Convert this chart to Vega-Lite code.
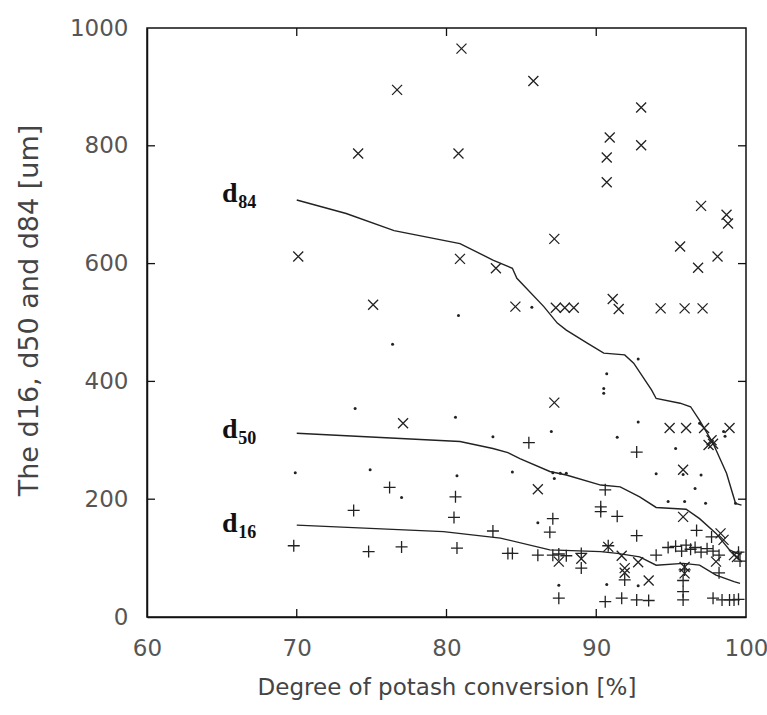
{
  "$schema": "https://vega.github.io/schema/vega-lite/v6.json",
  "width": 599,
  "height": 589,
  "autosize": {"type": "none"},
  "padding": {"left": 147, "top": 28, "right": 21, "bottom": 98},
  "background": "white",
  "config": {"view": {"stroke": "#111", "strokeWidth": 1.5}, "font": "DejaVu Sans"},
  "datasets": {
    "d84": [
      {"x": 81.0, "y": 965}, {"x": 76.7, "y": 895}, {"x": 74.1, "y": 787}, {"x": 80.8, "y": 787},
      {"x": 85.8, "y": 910}, {"x": 93.0, "y": 865}, {"x": 90.9, "y": 814}, {"x": 93.0, "y": 801},
      {"x": 90.7, "y": 780}, {"x": 90.7, "y": 738}, {"x": 97.0, "y": 698}, {"x": 98.7, "y": 683},
      {"x": 98.8, "y": 668}, {"x": 95.6, "y": 629}, {"x": 87.2, "y": 642}, {"x": 98.1, "y": 612},
      {"x": 96.8, "y": 593}, {"x": 70.1, "y": 612}, {"x": 80.9, "y": 608}, {"x": 83.3, "y": 592},
      {"x": 75.1, "y": 530}, {"x": 84.6, "y": 527}, {"x": 87.3, "y": 525}, {"x": 87.9, "y": 525},
      {"x": 88.5, "y": 525}, {"x": 91.1, "y": 540}, {"x": 91.5, "y": 523}, {"x": 94.3, "y": 524},
      {"x": 95.9, "y": 524}, {"x": 97.1, "y": 524}, {"x": 87.2, "y": 364}, {"x": 77.1, "y": 329},
      {"x": 94.9, "y": 321}, {"x": 96.0, "y": 321}, {"x": 97.2, "y": 321}, {"x": 98.9, "y": 321},
      {"x": 97.7, "y": 300}, {"x": 97.8, "y": 294}, {"x": 97.5, "y": 292}, {"x": 95.8, "y": 250},
      {"x": 86.1, "y": 217}, {"x": 95.8, "y": 170}, {"x": 98.3, "y": 142}, {"x": 98.5, "y": 131},
      {"x": 87.5, "y": 94}, {"x": 89.0, "y": 99}, {"x": 90.8, "y": 119}, {"x": 91.7, "y": 104},
      {"x": 91.9, "y": 83}, {"x": 91.9, "y": 75}, {"x": 92.8, "y": 93}, {"x": 95.9, "y": 85},
      {"x": 95.9, "y": 74}, {"x": 93.5, "y": 62}, {"x": 98.0, "y": 94}, {"x": 99.2, "y": 105},
      {"x": 99.4, "y": 102}
    ],
    "d50": [
      {"x": 85.7, "y": 526}, {"x": 92.8, "y": 438}, {"x": 90.7, "y": 413}, {"x": 90.5, "y": 388},
      {"x": 90.5, "y": 380}, {"x": 80.8, "y": 512}, {"x": 76.4, "y": 463}, {"x": 87.0, "y": 315},
      {"x": 92.8, "y": 331}, {"x": 98.5, "y": 315}, {"x": 98.6, "y": 307}, {"x": 91.4, "y": 305},
      {"x": 95.3, "y": 286}, {"x": 84.4, "y": 246}, {"x": 87.1, "y": 245}, {"x": 87.6, "y": 244},
      {"x": 88.0, "y": 244}, {"x": 87.2, "y": 235}, {"x": 94.0, "y": 243}, {"x": 95.8, "y": 242},
      {"x": 97.0, "y": 241}, {"x": 96.6, "y": 218}, {"x": 94.8, "y": 196}, {"x": 95.9, "y": 196},
      {"x": 97.3, "y": 193}, {"x": 86.1, "y": 160}, {"x": 87.5, "y": 54}, {"x": 90.7, "y": 55},
      {"x": 92.8, "y": 53}, {"x": 73.9, "y": 354}, {"x": 80.6, "y": 339}, {"x": 83.1, "y": 306},
      {"x": 69.9, "y": 245}, {"x": 74.9, "y": 250}, {"x": 80.7, "y": 240}, {"x": 77.0, "y": 203},
      {"x": 99.3, "y": 193}, {"x": 96.9, "y": 329}
    ],
    "d16": [
      {"x": 85.5, "y": 296}, {"x": 92.7, "y": 280}, {"x": 90.6, "y": 216}, {"x": 90.3, "y": 187},
      {"x": 90.3, "y": 179}, {"x": 91.4, "y": 171}, {"x": 87.1, "y": 167}, {"x": 86.9, "y": 144},
      {"x": 92.7, "y": 138}, {"x": 96.7, "y": 147}, {"x": 97.7, "y": 136}, {"x": 84.4, "y": 108},
      {"x": 86.1, "y": 105}, {"x": 87.1, "y": 105}, {"x": 87.5, "y": 107}, {"x": 88.0, "y": 104},
      {"x": 89.0, "y": 108}, {"x": 89.0, "y": 83}, {"x": 90.8, "y": 121}, {"x": 94.0, "y": 105},
      {"x": 94.8, "y": 118}, {"x": 95.3, "y": 120}, {"x": 95.7, "y": 112}, {"x": 96.0, "y": 122},
      {"x": 96.3, "y": 115}, {"x": 96.6, "y": 118}, {"x": 97.0, "y": 110}, {"x": 97.4, "y": 116},
      {"x": 97.8, "y": 112}, {"x": 98.2, "y": 105}, {"x": 95.9, "y": 80}, {"x": 98.2, "y": 75},
      {"x": 91.9, "y": 63}, {"x": 95.8, "y": 62}, {"x": 87.5, "y": 32}, {"x": 90.6, "y": 26},
      {"x": 91.7, "y": 32}, {"x": 92.7, "y": 29}, {"x": 93.5, "y": 28}, {"x": 95.8, "y": 43},
      {"x": 95.8, "y": 29}, {"x": 97.8, "y": 32}, {"x": 98.4, "y": 29}, {"x": 98.9, "y": 29},
      {"x": 99.2, "y": 29}, {"x": 99.5, "y": 30}, {"x": 76.2, "y": 220}, {"x": 73.8, "y": 181},
      {"x": 80.6, "y": 204}, {"x": 80.5, "y": 169}, {"x": 83.1, "y": 146}, {"x": 69.8, "y": 121},
      {"x": 74.8, "y": 111}, {"x": 77.0, "y": 119}, {"x": 80.7, "y": 117}, {"x": 84.1, "y": 108},
      {"x": 99.5, "y": 110}, {"x": 99.6, "y": 95}
    ],
    "curves": [
      {"s": "d84", "o": 1, "x": 70, "y": 708}, {"s": "d84", "o": 2, "x": 73.3, "y": 685},
      {"s": "d84", "o": 3, "x": 76.5, "y": 656}, {"s": "d84", "o": 4, "x": 80.9, "y": 634},
      {"s": "d84", "o": 5, "x": 83.1, "y": 606}, {"s": "d84", "o": 6, "x": 84.4, "y": 592},
      {"s": "d84", "o": 7, "x": 84.7, "y": 575}, {"s": "d84", "o": 8, "x": 86.5, "y": 527},
      {"s": "d84", "o": 9, "x": 87.4, "y": 499}, {"s": "d84", "o": 10, "x": 88.0, "y": 487},
      {"s": "d84", "o": 11, "x": 89.4, "y": 465}, {"s": "d84", "o": 12, "x": 90.5, "y": 448},
      {"s": "d84", "o": 13, "x": 91.9, "y": 445}, {"s": "d84", "o": 14, "x": 92.5, "y": 431},
      {"s": "d84", "o": 15, "x": 93.7, "y": 385}, {"s": "d84", "o": 16, "x": 94.0, "y": 371},
      {"s": "d84", "o": 17, "x": 95.6, "y": 363}, {"s": "d84", "o": 18, "x": 96.3, "y": 357},
      {"s": "d84", "o": 19, "x": 96.9, "y": 334}, {"s": "d84", "o": 20, "x": 97.8, "y": 295},
      {"s": "d84", "o": 21, "x": 98.7, "y": 244}, {"s": "d84", "o": 22, "x": 99.3, "y": 193},
      {"s": "d84", "o": 23, "x": 99.7, "y": 190},
      {"s": "d50", "o": 1, "x": 70, "y": 312}, {"s": "d50", "o": 2, "x": 80.9, "y": 298},
      {"s": "d50", "o": 3, "x": 83.1, "y": 286}, {"s": "d50", "o": 4, "x": 84.1, "y": 279},
      {"s": "d50", "o": 5, "x": 84.9, "y": 269}, {"s": "d50", "o": 6, "x": 86.9, "y": 247},
      {"s": "d50", "o": 7, "x": 88.0, "y": 241}, {"s": "d50", "o": 8, "x": 90.3, "y": 224},
      {"s": "d50", "o": 9, "x": 91.6, "y": 221}, {"s": "d50", "o": 10, "x": 92.9, "y": 204},
      {"s": "d50", "o": 11, "x": 94.0, "y": 186}, {"s": "d50", "o": 12, "x": 96.0, "y": 183},
      {"s": "d50", "o": 13, "x": 96.9, "y": 167}, {"s": "d50", "o": 14, "x": 98.0, "y": 142},
      {"s": "d50", "o": 15, "x": 98.9, "y": 114}, {"s": "d50", "o": 16, "x": 99.4, "y": 108},
      {"s": "d50", "o": 17, "x": 99.7, "y": 107},
      {"s": "d16", "o": 1, "x": 70, "y": 156}, {"s": "d16", "o": 2, "x": 79.8, "y": 145},
      {"s": "d16", "o": 3, "x": 83.6, "y": 134}, {"s": "d16", "o": 4, "x": 86.9, "y": 114},
      {"s": "d16", "o": 5, "x": 90.3, "y": 111}, {"s": "d16", "o": 6, "x": 91.4, "y": 108},
      {"s": "d16", "o": 7, "x": 92.9, "y": 102}, {"s": "d16", "o": 8, "x": 94.0, "y": 88},
      {"s": "d16", "o": 9, "x": 95.8, "y": 91}, {"s": "d16", "o": 10, "x": 96.9, "y": 88},
      {"s": "d16", "o": 11, "x": 98.0, "y": 71}, {"s": "d16", "o": 12, "x": 99.2, "y": 60},
      {"s": "d16", "o": 13, "x": 99.6, "y": 57}
    ],
    "xticks": [
      {"x": 70, "y": 0}, {"x": 80, "y": 0}, {"x": 90, "y": 0},
      {"x": 70, "y": 1000}, {"x": 80, "y": 1000}, {"x": 90, "y": 1000}
    ],
    "yticks": [
      {"x": 60, "y": 200}, {"x": 60, "y": 400}, {"x": 60, "y": 600}, {"x": 60, "y": 800},
      {"x": 100, "y": 200}, {"x": 100, "y": 400}, {"x": 100, "y": 600}, {"x": 100, "y": 800}
    ],
    "mainlabels": [
      {"x": 65.0, "y": 705, "t": "d"}, {"x": 65.0, "y": 304, "t": "d"}, {"x": 65.0, "y": 144, "t": "d"}
    ],
    "sublabels": [
      {"x": 66.1, "y": 694, "t": "84"}, {"x": 66.1, "y": 294, "t": "50"}, {"x": 66.1, "y": 134, "t": "16"}
    ]
  },
  "layer": [
    {
      "data": {"name": "d84"},
      "mark": {"type": "point", "shape": "M-1,-1L1,1M-1,1L1,-1", "filled": false, "stroke": "#222", "strokeWidth": 1.3, "size": 100, "opacity": 1},
      "encoding": {
        "x": {"field": "x", "type": "quantitative", "scale": {"domain": [60, 100], "nice": false, "zero": false},
          "axis": {"orient": "bottom", "values": [60, 70, 80, 90, 100], "title": "Degree of potash conversion [%]", "grid": false,
            "ticks": false, "domainColor": "#111", "domainWidth": 1.5,
            "labelPadding": 20, "labelFont": "DejaVu Sans", "labelFontSize": 23, "labelColor": "#555", "labelFlush": false, "labelOverlap": false,
            "titleFont": "DejaVu Sans", "titleFontSize": 23, "titleFontWeight": "normal", "titleColor": "#444", "titlePadding": 16}},
        "y": {"field": "y", "type": "quantitative", "scale": {"domain": [0, 1000], "nice": false, "zero": false},
          "axis": {"orient": "left", "values": [0, 200, 400, 600, 800, 1000], "format": "d", "title": "The d16, d50 and d84 [um]", "grid": false,
            "ticks": false, "domainColor": "#111", "domainWidth": 1.5,
            "labelPadding": 19, "labelFont": "DejaVu Sans", "labelFontSize": 23, "labelColor": "#555", "labelFlush": false, "labelOverlap": false,
            "titleFont": "DejaVu Sans", "titleFontSize": 27, "titleFontWeight": "normal", "titleColor": "#444", "titlePadding": 26, "titleY": 282}}
      }
    },
    {
      "data": {"name": "d16"},
      "mark": {"type": "point", "shape": "M-1,0L1,0M0,-1L0,1", "filled": false, "stroke": "#222", "strokeWidth": 1.3, "size": 144, "opacity": 1},
      "encoding": {
        "x": {"field": "x", "type": "quantitative", "axis": null},
        "y": {"field": "y", "type": "quantitative", "axis": null}
      }
    },
    {
      "data": {"name": "d50"},
      "mark": {"type": "point", "shape": "circle", "filled": true, "color": "#222", "size": 9, "opacity": 1},
      "encoding": {
        "x": {"field": "x", "type": "quantitative", "axis": null},
        "y": {"field": "y", "type": "quantitative", "axis": null}
      }
    },
    {
      "data": {"name": "xticks"},
      "mark": {"type": "tick", "orient": "vertical", "size": 16, "thickness": 1.3, "clip": true, "color": "#111", "opacity": 1},
      "encoding": {
        "x": {"field": "x", "type": "quantitative", "axis": null},
        "y": {"field": "y", "type": "quantitative", "axis": null}
      }
    },
    {
      "data": {"name": "yticks"},
      "mark": {"type": "tick", "orient": "horizontal", "size": 16, "thickness": 1.3, "clip": true, "color": "#111", "opacity": 1},
      "encoding": {
        "x": {"field": "x", "type": "quantitative", "axis": null},
        "y": {"field": "y", "type": "quantitative", "axis": null}
      }
    },
    {
      "data": {"name": "curves"},
      "mark": {"type": "line", "color": "#222", "strokeWidth": 1.4},
      "encoding": {
        "x": {"field": "x", "type": "quantitative", "axis": null},
        "y": {"field": "y", "type": "quantitative", "axis": null},
        "detail": {"field": "s", "type": "nominal"},
        "order": {"field": "o", "type": "quantitative"}
      }
    },
    {
      "data": {"name": "mainlabels"},
      "mark": {"type": "text", "font": "Liberation Serif", "fontWeight": "bold", "fontSize": 28, "align": "left", "baseline": "alphabetic", "color": "#111"},
      "encoding": {
        "x": {"field": "x", "type": "quantitative", "axis": null},
        "y": {"field": "y", "type": "quantitative", "axis": null},
        "text": {"field": "t", "type": "nominal"}
      }
    },
    {
      "data": {"name": "sublabels"},
      "mark": {"type": "text", "font": "Liberation Serif", "fontWeight": "bold", "fontSize": 18, "align": "left", "baseline": "alphabetic", "color": "#111"},
      "encoding": {
        "x": {"field": "x", "type": "quantitative", "axis": null},
        "y": {"field": "y", "type": "quantitative", "axis": null},
        "text": {"field": "t", "type": "nominal"}
      }
    }
  ],
  "resolve": {"axis": {"x": "independent", "y": "independent"}}
}
